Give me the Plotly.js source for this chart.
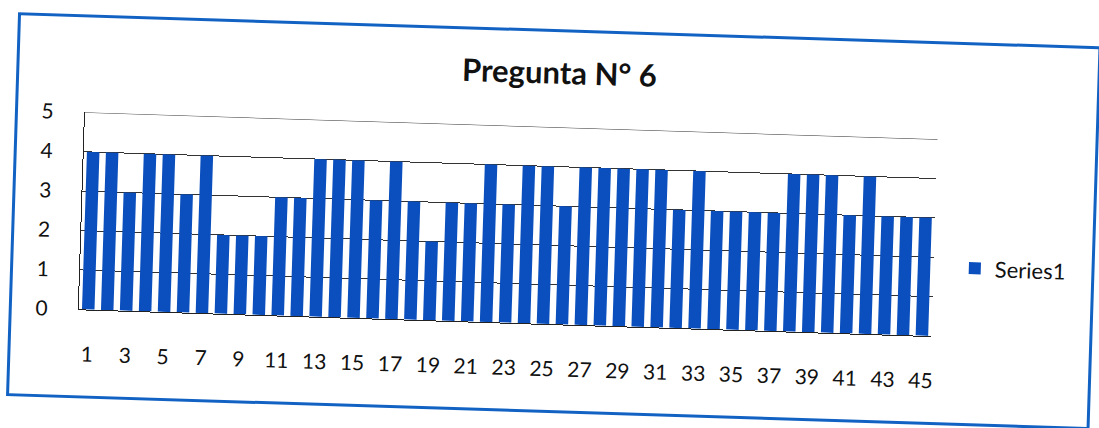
<!DOCTYPE html>
<html>
<head>
<meta charset="utf-8">
<script src="https://cdn.plot.ly/plotly-3.0.1.min.js"></script>
<style>
  html, body { margin: 0; padding: 0; background: #ffffff; overflow: hidden; }
  #wrap { position: relative; width: 1099px; height: 428px; transform: rotate(1.8deg); transform-origin: 549px 214px; }
  #chart { position: absolute; left: 0; top: 0; width: 1099px; height: 428px; }
  #frame { position: absolute; left: 12px; top: 29px; width: 1078px; height: 378px; border: 3px solid #1262c4; pointer-events: none; }
</style>
</head>
<body>
<div id="wrap">
  <div id="chart"></div>
  <div id="frame"></div>
</div>
<script>
const questions = Array.from({length: 45}, (_, i) => i + 1);
const series1 = [4,4,3,4,4,3,4,2,2,2,3,3,4,4,4,3,4,3,2,3,3,4,3,4,4,3,4,4,4,4,4,3,4,3,3,3,3,4,4,4,3,4,3,3,3];
const xTickLabels = ["1","3","5","7","9","11","13","15","17","19","21","23","25","27","29","31","33","35","37","39","41","43","45"];
const yTickLabels = ["0","1","2","3","4","5"];

const fontFam = "Lato, 'Open Sans', sans-serif";

const data = [{
  type: 'bar',
  x: questions,
  y: series1,
  name: 'Series1',
  marker: { color: '#0a4fbd' },
  showlegend: true
}];

const layout = {
  width: 1099, height: 428,
  paper_bgcolor: 'rgba(0,0,0,0)',
  plot_bgcolor: '#ffffff',
  margin: { l: 82, r: 164, t: 127, b: 104 },
  bargap: 0.34,
  title: {
    text: '<b>Pregunta N° 6</b>',
    font: { family: fontFam, size: 31, color: '#111111' },
    x: 0.505, xanchor: 'center', y: 0.83, yanchor: 'middle'
  },
  xaxis: {
    range: [0.5, 45.5],
    tickmode: 'array',
    tickvals: xTickLabels.map(Number),
    ticktext: xTickLabels,
    showgrid: false,
    zeroline: false,
    showline: true, linecolor: '#222', linewidth: 1,
    ticks: '',
    ticklabelstandoff: 26,
    tickfont: { family: fontFam, size: 21, color: '#111' }
  },
  yaxis: {
    range: [0, 5],
    tickmode: 'array',
    tickvals: yTickLabels.map(Number),
    ticktext: yTickLabels,
    showgrid: true, gridcolor: '#333', gridwidth: 1,
    zeroline: false,
    showline: true, linecolor: '#222', linewidth: 1,
    ticks: '',
    ticklabelstandoff: 26,
    tickfont: { family: fontFam, size: 21, color: '#111' }
  },
  legend: {
    x: 1.025, xanchor: 'left', y: 0.35, yanchor: 'middle',
    font: { family: fontFam, size: 22, color: '#111' },
    bgcolor: 'rgba(0,0,0,0)',
    itemwidth: 30
  },
  shapes: [{
    type: 'line', xref: 'paper', yref: 'y', x0: 0, x1: 1, y0: 5, y1: 5,
    line: { color: '#333', width: 1 }
  }]
};

Plotly.newPlot('chart', data, layout, { staticPlot: true, displayModeBar: false });
</script>
</body>
</html>
